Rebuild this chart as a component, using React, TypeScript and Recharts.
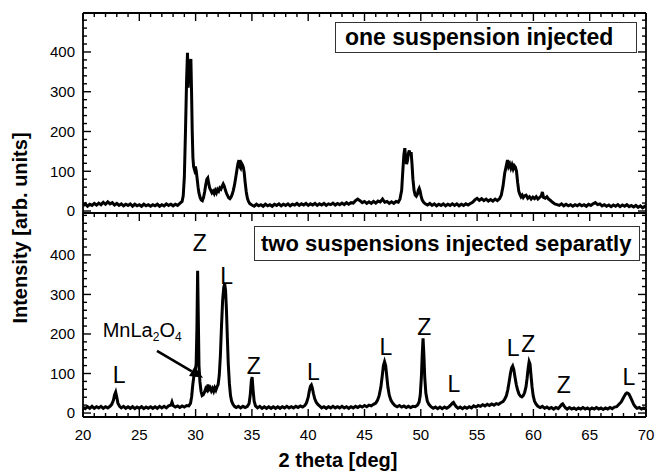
import React from 'react'
import { LineChart, Line, XAxis, YAxis, ReferenceDot, ReferenceLine } from 'recharts'

const xMajorTicks = [20, 25, 30, 35, 40, 45, 50, 55, 60, 65, 70]
const xMinorTicks = [
  21, 22, 23, 24, 26, 27, 28, 29, 31, 32, 33, 34, 36, 37, 38, 39, 41, 42, 43, 44, 46, 47, 48, 49,
  51, 52, 53, 54, 56, 57, 58, 59, 61, 62, 63, 64, 66, 67, 68, 69,
]
const yMajorTicks = [0, 100, 200, 300, 400]
const yMinorTicks = [
  20, 40, 60, 80, 120, 140, 160, 180, 220, 240, 260, 280, 320, 340, 360, 380, 420, 440, 460, 480,
]

// one suspension injected: [2 theta, counts]
const topScan: [number, number][] = [
  [20.0, 13], [20.2, 18], [20.4, 12], [20.6, 17], [20.8, 14], [21.0, 19], [21.2, 15], [21.4, 20], [21.6, 16],
  [21.8, 22], [22.0, 17], [22.2, 23], [22.4, 18], [22.6, 21], [22.8, 15], [23.0, 19], [23.2, 14], [23.4, 18],
  [23.6, 13], [23.8, 17], [24.0, 14], [24.2, 18], [24.4, 12], [24.6, 17], [24.8, 13], [25.0, 16], [25.2, 12],
  [25.4, 17], [25.6, 13], [25.8, 16], [26.0, 12], [26.2, 16], [26.4, 13], [26.6, 17], [26.8, 12], [27.0, 16],
  [27.2, 13], [27.4, 18], [27.6, 14], [27.8, 17], [28.0, 13], [28.2, 17], [28.4, 14], [28.6, 19], [28.8, 24],
  [28.9, 38], [29.0, 85], [29.1, 200], [29.2, 330], [29.28, 398], [29.34, 310], [29.4, 365], [29.46, 330],
  [29.52, 372], [29.58, 382], [29.64, 300], [29.7, 200], [29.76, 135], [29.82, 112], [29.9, 104], [29.98, 112],
  [30.06, 100], [30.14, 80], [30.22, 60], [30.3, 45], [30.4, 34], [30.5, 28], [30.6, 26], [30.7, 34], [30.8, 48],
  [30.9, 66], [31.0, 80], [31.08, 83], [31.16, 70], [31.25, 58], [31.35, 52], [31.45, 46], [31.55, 50],
  [31.65, 44], [31.75, 52], [31.85, 46], [31.95, 54], [32.05, 50], [32.15, 58], [32.25, 55], [32.35, 62],
  [32.45, 68], [32.55, 62], [32.65, 52], [32.75, 44], [32.85, 38], [32.95, 33], [33.05, 31], [33.15, 35],
  [33.25, 42], [33.35, 52], [33.45, 65], [33.55, 82], [33.65, 100], [33.75, 118], [33.85, 128], [33.92, 112],
  [34.0, 108], [34.08, 120], [34.16, 116], [34.24, 110], [34.32, 96], [34.4, 72], [34.5, 48], [34.6, 32],
  [34.7, 24], [34.8, 19], [34.9, 17], [35.0, 15], [35.2, 12], [35.4, 17], [35.6, 13], [35.8, 16], [36.0, 12],
  [36.2, 17], [36.4, 13], [36.6, 16], [36.8, 12], [37.0, 17], [37.2, 14], [37.4, 18], [37.6, 13], [37.8, 17],
  [38.0, 14], [38.2, 18], [38.4, 13], [38.6, 17], [38.8, 15], [39.0, 19], [39.2, 14], [39.4, 18], [39.6, 15],
  [39.8, 19], [40.0, 14], [40.2, 18], [40.4, 15], [40.6, 19], [40.8, 14], [41.0, 18], [41.2, 15], [41.4, 19],
  [41.6, 14], [41.8, 18], [42.0, 16], [42.2, 20], [42.4, 15], [42.6, 19], [42.8, 16], [43.0, 20], [43.2, 16],
  [43.4, 21], [43.6, 17], [43.8, 21], [44.0, 20], [44.2, 26], [44.4, 30], [44.6, 26], [44.8, 21], [45.0, 24],
  [45.2, 19], [45.4, 23], [45.6, 19], [45.8, 24], [46.0, 20], [46.2, 25], [46.4, 23], [46.6, 30], [46.8, 22],
  [47.0, 24], [47.2, 19], [47.4, 23], [47.6, 19], [47.8, 24], [48.0, 22], [48.15, 30], [48.3, 52], [48.4, 100],
  [48.5, 142], [48.58, 158], [48.66, 130], [48.74, 118], [48.82, 128], [48.9, 145], [48.98, 152], [49.06, 140],
  [49.14, 148], [49.22, 118], [49.3, 80], [49.4, 52], [49.5, 40], [49.6, 37], [49.7, 42], [49.78, 52],
  [49.86, 57], [49.94, 50], [50.02, 38], [50.12, 28], [50.25, 22], [50.4, 18], [50.6, 15], [50.8, 19],
  [51.0, 14], [51.2, 18], [51.4, 13], [51.6, 17], [51.8, 14], [52.0, 18], [52.2, 13], [52.4, 17], [52.6, 14],
  [52.8, 18], [53.0, 14], [53.2, 18], [53.4, 13], [53.6, 17], [53.8, 14], [54.0, 18], [54.2, 15], [54.4, 19],
  [54.6, 22], [54.8, 28], [55.0, 32], [55.2, 27], [55.4, 31], [55.6, 26], [55.8, 30], [56.0, 25], [56.2, 29],
  [56.4, 25], [56.6, 30], [56.8, 26], [57.0, 31], [57.15, 40], [57.3, 62], [57.45, 95], [57.6, 115],
  [57.7, 128], [57.8, 112], [57.9, 118], [58.0, 108], [58.1, 116], [58.2, 106], [58.3, 114], [58.4, 110],
  [58.5, 100], [58.6, 72], [58.7, 50], [58.8, 42], [58.9, 36], [59.0, 40], [59.1, 34], [59.2, 38], [59.35, 40],
  [59.5, 32], [59.65, 36], [59.8, 30], [59.95, 35], [60.1, 31], [60.25, 36], [60.4, 30], [60.55, 34],
  [60.7, 38], [60.8, 48], [60.9, 34], [61.05, 32], [61.2, 36], [61.35, 30], [61.5, 27], [61.7, 22], [61.9, 18],
  [62.1, 16], [62.3, 14], [62.5, 18], [62.7, 13], [62.9, 17], [63.1, 13], [63.3, 16], [63.5, 12], [63.7, 16],
  [63.9, 13], [64.1, 17], [64.3, 13], [64.5, 16], [64.7, 12], [64.9, 17], [65.1, 14], [65.3, 18], [65.5, 21],
  [65.7, 16], [65.9, 18], [66.1, 13], [66.3, 16], [66.5, 12], [66.7, 15], [66.9, 11], [67.1, 15], [67.3, 12],
  [67.5, 16], [67.7, 11], [67.9, 15], [68.1, 12], [68.3, 16], [68.5, 11], [68.7, 14], [68.9, 10], [69.1, 14],
  [69.3, 9], [69.5, 13], [69.7, 8], [69.9, 12], [70.0, 9],
]

// two suspensions injected separatly: [2 theta, counts]
const bottomScan: [number, number][] = [
  [20.0, 15], [20.2, 11], [20.4, 16], [20.6, 12], [20.8, 17], [21.0, 12], [21.2, 16], [21.4, 13], [21.6, 17],
  [21.8, 12], [22.0, 16], [22.2, 13], [22.4, 17], [22.55, 22], [22.7, 32], [22.8, 46], [22.9, 53], [23.0, 40],
  [23.1, 25], [23.25, 17], [23.4, 13], [23.6, 17], [23.8, 12], [24.0, 16], [24.2, 12], [24.4, 16], [24.6, 11],
  [24.8, 15], [25.0, 12], [25.2, 16], [25.4, 11], [25.6, 15], [25.8, 12], [26.0, 16], [26.2, 12], [26.4, 16],
  [26.6, 12], [26.8, 17], [27.0, 13], [27.2, 17], [27.4, 13], [27.6, 18], [27.8, 20], [27.9, 28], [28.0, 19],
  [28.2, 15], [28.4, 18], [28.6, 14], [28.8, 18], [29.0, 15], [29.2, 19], [29.4, 18], [29.55, 25], [29.65, 42],
  [29.75, 72], [29.85, 94], [29.95, 100], [30.05, 125], [30.12, 220], [30.18, 360], [30.24, 240], [30.3, 120],
  [30.38, 80], [30.48, 55], [30.58, 44], [30.68, 46], [30.78, 52], [30.9, 62], [31.0, 58], [31.1, 72],
  [31.2, 60], [31.3, 64], [31.4, 56], [31.5, 62], [31.6, 55], [31.7, 64], [31.8, 58], [31.9, 66], [32.0, 72],
  [32.1, 95], [32.2, 145], [32.3, 220], [32.4, 285], [32.5, 318], [32.58, 327], [32.66, 310], [32.74, 260],
  [32.82, 190], [32.9, 125], [33.0, 75], [33.1, 44], [33.2, 30], [33.32, 22], [33.45, 17], [33.6, 14],
  [33.8, 17], [34.0, 13], [34.2, 17], [34.4, 14], [34.6, 17], [34.75, 24], [34.85, 45], [34.95, 82], [35.02, 91],
  [35.1, 60], [35.2, 30], [35.32, 18], [35.5, 13], [35.7, 17], [35.9, 12], [36.1, 16], [36.3, 12], [36.5, 16],
  [36.7, 12], [36.9, 16], [37.1, 12], [37.3, 16], [37.5, 12], [37.7, 16], [37.9, 13], [38.1, 17], [38.3, 13],
  [38.5, 16], [38.7, 13], [38.9, 17], [39.1, 14], [39.3, 18], [39.5, 15], [39.7, 19], [39.85, 26], [40.0, 40],
  [40.1, 56], [40.2, 68], [40.28, 71], [40.36, 64], [40.46, 50], [40.58, 36], [40.72, 27], [40.88, 21],
  [41.05, 17], [41.2, 13], [41.4, 16], [41.6, 12], [41.8, 16], [42.0, 13], [42.2, 17], [42.4, 13], [42.6, 16],
  [42.8, 13], [43.0, 17], [43.2, 13], [43.4, 16], [43.6, 12], [43.8, 16], [44.0, 13], [44.2, 17], [44.4, 14],
  [44.6, 18], [44.8, 15], [45.0, 19], [45.2, 16], [45.4, 20], [45.6, 18], [45.8, 22], [46.0, 25], [46.15, 32],
  [46.3, 44], [46.45, 65], [46.58, 95], [46.68, 120], [46.78, 130], [46.88, 120], [46.98, 92], [47.08, 65],
  [47.2, 45], [47.35, 32], [47.5, 25], [47.7, 19], [47.9, 16], [48.1, 19], [48.3, 15], [48.5, 18], [48.7, 14],
  [48.9, 17], [49.1, 14], [49.3, 17], [49.5, 16], [49.7, 20], [49.85, 28], [49.95, 45], [50.05, 90],
  [50.13, 150], [50.2, 189], [50.27, 150], [50.35, 90], [50.45, 50], [50.58, 30], [50.72, 22], [50.9, 16],
  [51.1, 12], [51.3, 15], [51.5, 11], [51.7, 15], [51.9, 11], [52.1, 15], [52.3, 12], [52.5, 16], [52.65, 20],
  [52.8, 25], [52.9, 27], [53.0, 22], [53.15, 16], [53.3, 12], [53.5, 15], [53.7, 11], [53.9, 15], [54.1, 12],
  [54.3, 16], [54.5, 13], [54.7, 18], [54.9, 15], [55.1, 19], [55.3, 17], [55.5, 21], [55.7, 18], [55.9, 22],
  [56.1, 19], [56.3, 23], [56.5, 20], [56.7, 24], [56.9, 22], [57.1, 26], [57.3, 29], [57.45, 35], [57.6, 44],
  [57.72, 58], [57.84, 78], [57.96, 100], [58.06, 114], [58.16, 119], [58.26, 110], [58.36, 92], [58.48, 72],
  [58.6, 58], [58.72, 48], [58.85, 43], [58.98, 41], [59.1, 44], [59.22, 52], [59.34, 66], [59.44, 88],
  [59.54, 115], [59.62, 130], [59.7, 124], [59.78, 98], [59.88, 66], [59.98, 44], [60.1, 30], [60.25, 22],
  [60.4, 17], [60.6, 14], [60.8, 17], [61.0, 12], [61.2, 15], [61.4, 11], [61.6, 14], [61.8, 10], [62.0, 14],
  [62.2, 11], [62.35, 16], [62.5, 21], [62.6, 23], [62.72, 18], [62.85, 13], [63.0, 10], [63.2, 14], [63.4, 10],
  [63.6, 13], [63.8, 9], [64.0, 13], [64.2, 10], [64.4, 14], [64.6, 10], [64.8, 13], [65.0, 9], [65.2, 13],
  [65.4, 10], [65.6, 14], [65.8, 10], [66.0, 13], [66.2, 9], [66.4, 13], [66.6, 10], [66.8, 14], [67.0, 11],
  [67.2, 15], [67.4, 16], [67.6, 22], [67.8, 28], [67.95, 36], [68.1, 44], [68.2, 49], [68.3, 51], [68.4, 50],
  [68.5, 47], [68.62, 40], [68.75, 32], [68.9, 22], [69.05, 16], [69.2, 12], [69.4, 14], [69.6, 10], [69.8, 13],
  [70.0, 10],
]

// phase letters above the peaks of the lower pattern (L = LaMnO3-type, Z = zirconia)
const peakLetters: { angle: number; counts: number; text: string }[] = [
  { angle: 23.2, counts: 96, text: 'L' },
  { angle: 30.36, counts: 429, text: 'Z' },
  { angle: 32.76, counts: 347, text: 'L' },
  { angle: 35.16, counts: 119, text: 'Z' },
  { angle: 40.46, counts: 105, text: 'L' },
  { angle: 46.9, counts: 167, text: 'L' },
  { angle: 50.31, counts: 218, text: 'Z' },
  { angle: 52.95, counts: 73, text: 'L' },
  { angle: 58.2, counts: 164, text: 'L' },
  { angle: 59.55, counts: 175, text: 'Z' },
  { angle: 62.69, counts: 71, text: 'Z' },
  { angle: 68.49, counts: 92, text: 'L' },
]
const phaseNote = { angle: 21.75, counts: 210 }
const phaseArrow = [
  { x: 26.57, y: 157 },
  { x: 30.66, y: 89 },
]

const FONT = '"Liberation Sans", Arial, Helvetica, sans-serif'
const INK = '#000'
const W = 663
const PLOT_LEFT = 83
const PLOT_RIGHT = 17
const THIN = 0.01 // axes must not take room or push each other
const X_DOMAIN: [number, number] = [20, 70]

const tickFont = { fontSize: 15, fill: INK, fontFamily: FONT }

// short inward marks at the ends of a grid-position reference line
const edgeMarks = (len: number, atStart: boolean, atEnd: boolean) => (props: any) => {
  const { x1, y1, x2, y2 } = props
  const vertical = Math.abs(x1 - x2) < 0.5
  const marks: React.ReactNode[] = []
  if (vertical) {
    const top = Math.min(y1, y2)
    const bottom = Math.max(y1, y2)
    if (atStart) marks.push(<line key="a" x1={x1} y1={top} x2={x1} y2={top + len} />)
    if (atEnd) marks.push(<line key="b" x1={x1} y1={bottom} x2={x1} y2={bottom - len} />)
  } else {
    const left = Math.min(x1, x2)
    const right = Math.max(x1, x2)
    if (atStart) marks.push(<line key="a" x1={left} y1={y1} x2={left + len} y2={y1} />)
    if (atEnd) marks.push(<line key="b" x1={right} y1={y1} x2={right - len} y2={y1} />)
  }
  return (
    <g stroke={INK} strokeWidth={1.4}>
      {marks}
    </g>
  )
}

const LetterMark = (props: any) => (
  <text
    x={props.cx}
    y={props.cy}
    textAnchor="middle"
    dominantBaseline="central"
    fontSize={23}
    fontFamily={FONT}
    fill={INK}
  >
    {props.label}
  </text>
)

const PhaseNote = (props: any) => (
  <text x={props.cx} y={props.cy + 7} fontSize={20} fontFamily={FONT} fill={INK}>
    MnLa
    <tspan fontSize={12} dy={4}>2</tspan>
    <tspan dy={-4}>O</tspan>
    <tspan fontSize={12} dy={4}>4</tspan>
  </text>
)

const ArrowShape = (props: any) => {
  const { x1, y1, x2, y2 } = props
  const dx = x2 - x1
  const dy = y2 - y1
  const len = Math.hypot(dx, dy) || 1
  const ux = dx / len
  const uy = dy / len
  const head = 13
  const half = 5.5
  const bx = x2 - ux * head
  const by = y2 - uy * head
  return (
    <g>
      <line x1={x1} y1={y1} x2={bx} y2={by} stroke={INK} strokeWidth={2.6} />
      <polygon
        points={`${x2},${y2} ${bx - uy * half},${by + ux * half} ${bx + uy * half},${by - ux * half}`}
        fill={INK}
      />
    </g>
  )
}

type PanelProps = {
  scan: [number, number][]
  height: number
  marginTop: number
  marginBottom: number
  yDomain: [number, number]
  yMinor: number[]
  bottomTicks: boolean
  children?: React.ReactNode
}

function Panel({ scan, height, marginTop, marginBottom, yDomain, yMinor, bottomTicks, children }: PanelProps) {
  const data = scan.map(([angle, counts]) => ({ angle, counts }))
  const ref = { xAxisId: 'data', yAxisId: 'data', ifOverflow: 'visible' as const }
  const frame = { stroke: INK, strokeWidth: 1.8 }
  return (
    <LineChart
      width={W}
      height={height}
      data={data}
      margin={{ top: marginTop, right: PLOT_RIGHT, bottom: marginBottom, left: PLOT_LEFT }}
    >
      <XAxis xAxisId="data" type="number" dataKey="angle" domain={X_DOMAIN} allowDataOverflow hide
        height={THIN} />
      <YAxis yAxisId="data" type="number" domain={yDomain} allowDataOverflow hide width={THIN} />
      {bottomTicks && (
        <XAxis xAxisId="labels" type="number" dataKey="angle" domain={X_DOMAIN} allowDataOverflow
          orientation="bottom" ticks={xMajorTicks} interval={0} tick={tickFont} tickSize={0} tickMargin={12}
          height={THIN} axisLine={false} tickLine={false} />
      )}
      <YAxis yAxisId="labels" type="number" domain={yDomain} allowDataOverflow orientation="left"
        ticks={yMajorTicks} interval={0} tick={tickFont} tickSize={0} tickMargin={8} width={THIN}
        axisLine={false} tickLine={false} />

      {/* inward tick marks on the frame */}
      {xMajorTicks.map((t) => (
        <ReferenceLine key={`xM${t}`} {...ref} x={t} shape={edgeMarks(8, true, bottomTicks)} />
      ))}
      {xMinorTicks.map((t) => (
        <ReferenceLine key={`xm${t}`} {...ref} x={t} shape={edgeMarks(4, true, bottomTicks)} />
      ))}
      {yMajorTicks.map((t) => (
        <ReferenceLine key={`yM${t}`} {...ref} y={t} shape={edgeMarks(8, true, true)} />
      ))}
      {yMinor.map((t) => (
        <ReferenceLine key={`ym${t}`} {...ref} y={t} shape={edgeMarks(4, true, true)} />
      ))}

      <Line xAxisId="data" yAxisId="data" type="linear" dataKey="counts" stroke={INK} strokeWidth={3}
        dot={false} isAnimationActive={false} />

      {/* frame */}
      <ReferenceLine {...ref} x={X_DOMAIN[0]} {...frame} />
      <ReferenceLine {...ref} x={X_DOMAIN[1]} {...frame} />
      <ReferenceLine {...ref} y={yDomain[0]} {...frame} />
      <ReferenceLine {...ref} y={yDomain[1]} {...frame} />
      {children}
    </LineChart>
  )
}

export default function App() {
  return (
    <div
      style={{
        position: 'absolute',
        left: 0,
        top: 0,
        width: W,
        height: 474,
        background: '#fff',
        fontFamily: FONT,
        color: INK,
      }}
    >
      <div style={{ position: 'absolute', left: 0, top: 0 }}>
        <Panel scan={topScan} height={226} marginTop={13} marginBottom={13} yDomain={[-5, 498]}
          yMinor={yMinorTicks} bottomTicks={false} />
      </div>
      <div style={{ position: 'absolute', left: 0, top: 213 }}>
        <Panel scan={bottomScan} height={261} marginTop={0} marginBottom={57} yDomain={[-10, 506]}
          yMinor={[...yMinorTicks, 500]} bottomTicks>
          {peakLetters.map((p, i) => (
            <ReferenceDot key={i} xAxisId="data" yAxisId="data" x={p.angle} y={p.counts} r={0}
              ifOverflow="visible" shape={(props: any) => <LetterMark {...props} label={p.text} />} />
          ))}
          <ReferenceDot xAxisId="data" yAxisId="data" x={phaseNote.angle} y={phaseNote.counts} r={0}
            ifOverflow="visible" shape={(props: any) => <PhaseNote {...props} />} />
          <ReferenceLine xAxisId="data" yAxisId="data" segment={phaseArrow} ifOverflow="visible"
            shape={(props: any) => <ArrowShape {...props} />} />
        </Panel>
      </div>

      {/* panel captions */}
      <div style={{ position: 'absolute', left: 335, top: 22, width: 302, height: 31, boxSizing: 'border-box',
        border: '1px solid #333', background: '#fff', display: 'flex', alignItems: 'center',
        paddingLeft: 9, fontWeight: 700, fontSize: 23, whiteSpace: 'nowrap' }}>
        one suspension injected
      </div>
      <div style={{ position: 'absolute', left: 254, top: 226, width: 386, height: 35, boxSizing: 'border-box',
        border: '1px solid #333', background: '#fff', display: 'flex', alignItems: 'center',
        paddingLeft: 6, fontWeight: 700, fontSize: 22, whiteSpace: 'nowrap' }}>
        two suspensions injected separatly
      </div>

      {/* axis titles */}
      <div style={{ position: 'absolute', left: 20 - 150, top: 228 - 12, width: 300, height: 24, lineHeight: '24px',
        textAlign: 'center', fontWeight: 700, fontSize: 20, transform: 'rotate(-90deg)', whiteSpace: 'nowrap' }}>
        Intensity [arb. units]
      </div>
      <div style={{ position: 'absolute', left: 338 - 150, top: 448, width: 300, height: 24, lineHeight: '24px',
        textAlign: 'center', fontWeight: 700, fontSize: 20, whiteSpace: 'nowrap' }}>
        2 theta [deg]
      </div>
    </div>
  )
}
